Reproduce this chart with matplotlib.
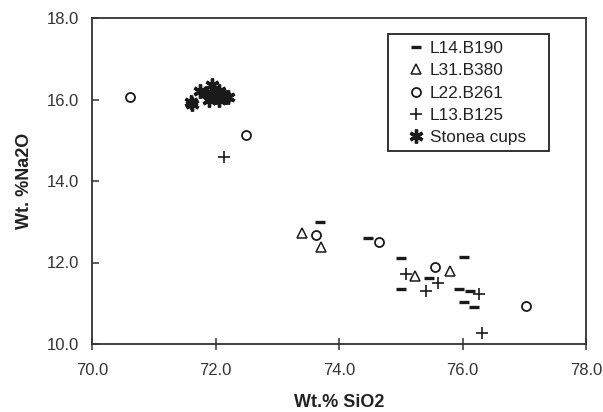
import matplotlib
matplotlib.use("Agg")
import matplotlib.pyplot as plt
from matplotlib.patches import Rectangle

plt.rcParams["font.family"] = ["Liberation Sans", "DejaVu Sans"]

# ---------- data ----------
l14_sio2 = [73.70, 74.47, 75.00, 75.00, 75.45, 76.03, 75.95, 76.12, 76.02, 76.19]
l14_na2o = [13.00, 12.61, 12.12, 11.34, 11.61, 12.14, 11.34, 11.31, 11.04, 10.90]

l31_sio2 = [73.40, 73.71, 75.23, 75.79]
l31_na2o = [12.72, 12.39, 11.67, 11.80]

l22_sio2 = [70.62, 72.49, 73.63, 74.64, 75.55, 77.03]
l22_na2o = [16.07, 15.13, 12.67, 12.51, 11.90, 10.93]

l13_sio2 = [72.14, 75.08, 75.41, 75.61, 76.27, 76.31]
l13_na2o = [14.60, 11.73, 11.30, 11.49, 11.22, 10.28]

stonea_sio2 = [71.60, 71.62, 71.75, 71.85, 71.95, 71.95, 72.00, 72.05,
               72.05, 72.10, 72.15, 72.20, 71.90, 72.00]
stonea_na2o = [15.95, 15.90, 16.20, 16.15, 16.35, 16.10, 16.05, 16.20,
               16.00, 16.10, 16.05, 16.05, 16.00, 16.15]

x_ticks = [70.0, 72.0, 74.0, 76.0, 78.0]
y_ticks = [10.0, 12.0, 14.0, 16.0, 18.0]

ink = "#1a1a1a"

fig = plt.figure(figsize=(6.03, 4.12), dpi=100)
ax = fig.add_axes([92 / 603, 68 / 412, 494 / 603, 326 / 412])

ax.plot(l14_sio2, l14_na2o, ls="none", marker="_", ms=6.5, mew=2.4, color=ink, label="L14.B190")
ax.plot(l31_sio2, l31_na2o, ls="none", marker="^", ms=7, mew=1.1, mfc="none", mec=ink, label="L31.B380")
ax.plot(l22_sio2, l22_na2o, ls="none", marker="o", ms=6.5, mew=1.3, mfc="none", mec=ink, label="L22.B261")
ax.plot(l13_sio2, l13_na2o, ls="none", marker="+", ms=8, mew=1.2, color=ink, label="L13.B125")
ax.plot(stonea_sio2, stonea_na2o, ls="none", marker=(6, 2, 0), ms=10, mew=2.4, color=ink,
        label="Stonea cups")

ax.set_xlim(70, 78)
ax.set_ylim(10, 18)
ax.set_xticks(x_ticks)
ax.set_yticks(y_ticks)
ax.set_xticklabels([f"{v:.1f}" for v in x_ticks])
ax.set_yticklabels([f"{v:.1f}" for v in y_ticks])
ax.tick_params(axis="x", direction="inout", length=8, width=1.1, pad=10,
               labelsize=12, colors="#333333")
ax.tick_params(axis="y", direction="in", length=5, width=1.1, pad=9.5,
               labelsize=12, colors="#333333")
for s in ax.spines.values():
    s.set_color("#333333")
    s.set_linewidth(1.3)

ax.set_xlabel("Wt.% SiO2", fontsize=13, fontweight="bold", color="#222222", labelpad=11)
ax.set_ylabel("Wt. %Na2O", fontsize=13, fontweight="bold", color="#222222", labelpad=10)

# legend box drawn separately so padding matches the original
fig.patches.append(Rectangle((388 / 603, 1 - 151 / 412), 161 / 603, 117 / 412,
                             transform=fig.transFigure, fill=False,
                             edgecolor="#222222", lw=1.3))
ax.legend(loc="upper left", bbox_to_anchor=(406 / 603, 1 - 41 / 412),
          bbox_transform=fig.transFigure, frameon=False, fontsize=12.4,
          handlelength=1.2, handletextpad=0.2, borderpad=0, borderaxespad=0,
          labelspacing=0.42, labelcolor="#222222")

fig.savefig("out.png", dpi=100)
